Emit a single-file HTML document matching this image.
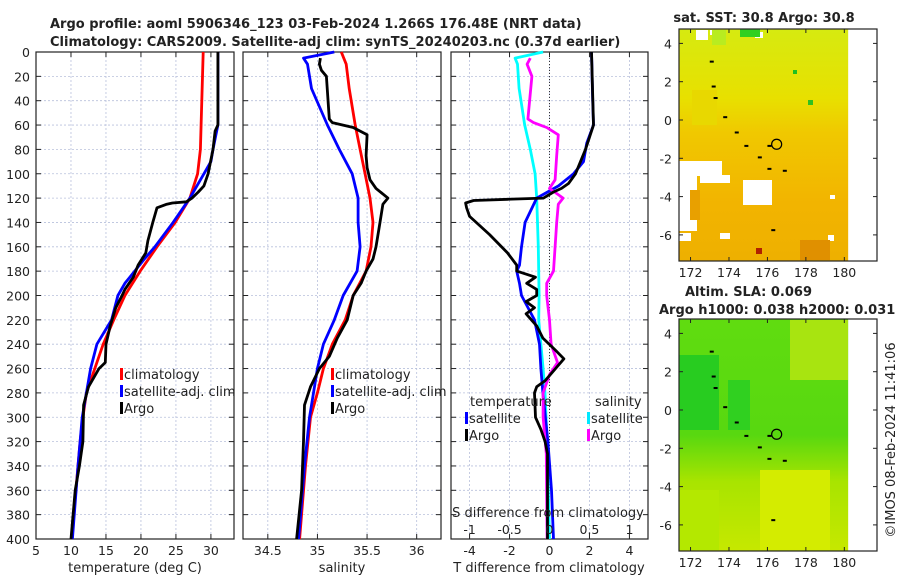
<!DOCTYPE html>
<html><head><meta charset="utf-8"><style>
html,body{margin:0;padding:0;background:#fff;}
svg{display:block;font-family:"DejaVu Sans","Liberation Sans",sans-serif;}
</style></head><body>
<svg id="fig" width="900" height="580" viewBox="0 0 900 580" xmlns="http://www.w3.org/2000/svg">
<defs>
<linearGradient id="sstg" x1="0" y1="0" x2="0" y2="1">
<stop offset="0" stop-color="#d6ea10"/><stop offset="0.3" stop-color="#e8e000"/><stop offset="0.45" stop-color="#f0c800"/><stop offset="0.75" stop-color="#f2b400"/><stop offset="1" stop-color="#eeb000"/>
</linearGradient>
<linearGradient id="slag" x1="0" y1="0" x2="0" y2="1">
<stop offset="0" stop-color="#60dc10"/><stop offset="0.5" stop-color="#58d810"/><stop offset="0.7" stop-color="#a8e400"/><stop offset="1" stop-color="#c6e800"/>
</linearGradient>
</defs>
<g id="root"></g>
</svg>
<script>
// ---- data: depth levels & values ----
const tClimD=[0,20,60,80,100,120,140,160,180,200,220,240,260,280,300,320,340,360,380,400];
const tClimV=[28.9,28.8,28.6,28.5,28.1,27.0,24.9,22.3,19.9,17.7,16.1,14.6,13.4,12.2,11.7,11.3,11.0,10.7,10.4,10.1];
const tSatD=[0,60,80,90,100,120,140,160,170,180,190,200,220,240,260,280,300,340,400];
const tSatV=[31,31,30.3,30,29,27,24.6,22,20.5,19.1,17.7,16.7,15.8,13.7,12.8,12.2,11.6,11,10.2];
const tArgoD=[0,60,65,80,100,110,115,120,123,124,125,128,140,155,165,175,185,195,200,210,225,240,255,260,275,290,320,340,360,400];
const tArgoV=[31,31,30.6,30.3,29.6,29,28.2,27.3,26.5,24.5,23.7,22.3,21.7,21,20.7,19.6,18.9,17.7,17.3,16.4,15.6,15,14.9,14,12.5,11.8,11.7,11.2,10.6,10];
const sClimD=[0,10,30,60,80,100,120,140,160,180,200,220,240,260,280,300,340,400];
const sClimV=[35.24,35.29,35.32,35.38,35.43,35.48,35.53,35.56,35.54,35.49,35.36,35.28,35.15,35.06,35.0,34.93,34.88,34.82];
const sSatD=[0,5,10,30,60,80,100,120,140,160,180,200,220,240,260,280,300,340,400];
const sSatV=[35.17,34.86,34.9,34.94,35.1,35.22,35.35,35.41,35.41,35.43,35.4,35.26,35.17,35.06,35.0,34.96,34.92,34.87,34.81];
const sArgoD=[5,10,15,20,55,58,62,68,85,95,105,112,120,125,140,160,170,180,190,200,220,235,250,260,275,290,320,360,400];
const sArgoV=[35.03,35.02,35.04,35.09,35.12,35.15,35.36,35.5,35.49,35.5,35.53,35.59,35.71,35.66,35.63,35.59,35.56,35.49,35.44,35.36,35.3,35.2,35.12,35.02,34.93,34.87,34.86,34.84,34.79];
const dSsatD=[0,5,10,30,60,80,100,120,160,200,220,260,280,320,400];
const dSsatV=[-0.08,-0.43,-0.40,-0.38,-0.31,-0.24,-0.18,-0.16,-0.14,-0.13,-0.135,-0.08,-0.056,-0.03,0];
const dSargoD=[5,10,20,55,58,62,68,85,105,112,120,125,140,160,180,190,200,220,240,255,265,280,300,330,400];
const dSargoV=[-0.24,-0.28,-0.22,-0.27,-0.2,-0.035,0.11,0.09,0.07,0,0.17,0.11,0.09,0.07,0.05,-0.035,-0.035,0,0.02,0.1,0,-0.08,-0.08,-0.04,-0.03];
const dTsatD=[0,40,60,75,90,100,110,120,140,160,175,180,190,200,220,240,260,280,320,360,400];
const dTsatV=[2.1,2.16,2.2,1.86,1.7,1.2,0.45,-0.64,-1.22,-1.4,-1.5,-1.64,-1.5,-1.4,-0.75,-0.5,-0.43,-0.33,-0.08,0.1,0.2];
const dTargoD=[0,60,70,80,100,108,112,115,120,121,122,124,128,135,150,165,175,180,185,190,195,200,205,210,215,225,235,245,252,260,270,275,280,300,310,320,330,360,400];
const dTargoV=[2.1,2.2,2.0,1.8,1.3,0.95,0.6,0.2,-0.3,-2.1,-3.8,-4.2,-4.15,-4.0,-3.0,-2.1,-1.64,-1.64,-0.7,-1.14,-0.64,-0.64,-1.17,-0.75,-1.17,-0.64,-0.33,0.3,0.72,0.3,-0.22,-0.64,-0.75,-0.7,-0.43,-0.22,-0.1,-0.1,-0.1];
const depthTicks=[0,20,40,60,80,100,120,140,160,180,200,220,240,260,280,300,320,340,360,380,400];
const tTicks=[5,10,15,20,25,30];
const sTicks=[34.5,35,35.5,36];
const dTTicks=[-4,-2,0,2,4];
const dSTicks=[-1,-0.5,0,0.5,1];
const latTicks=[4,2,0,-2,-4,-6];
const lonTicks=[172,174,176,178,180];

const NS="http://www.w3.org/2000/svg";
const root=document.getElementById('root');
function mk(tag,at,parent){const e=document.createElementNS(NS,tag);for(const k in at)e.setAttribute(k,at[k]);(parent||root).appendChild(e);return e;}
function txt(s,x,y,size,anchor,weight,parent){const e=mk('text',{x:x,y:y,'font-size':size,'text-anchor':anchor||'start','font-weight':weight||'normal',fill:'#222'},parent);e.textContent=s;return e;}

const Y0=52,Y1=539;
const yD=d=>Y0+(d/400)*(Y1-Y0);
function panel(name,x0,x1,xmin,xmax,ticks,fmt){
  const g=mk('g',{});
  
  
  const xs=v=>x0+(v-xmin)/(xmax-xmin)*(x1-x0);
  depthTicks.forEach(d=>{mk('line',{x1:x0,x2:x1,y1:yD(d),y2:yD(d),stroke:'#b8c0dc','stroke-width':0.8,'stroke-dasharray':'2,2'},g);
    mk('line',{x1:x0,x2:x0+5,y1:yD(d),y2:yD(d),stroke:'#222'},g);mk('line',{x1:x1-5,x2:x1,y1:yD(d),y2:yD(d),stroke:'#222'},g);});
  ticks.forEach(t=>{const x=xs(t);mk('line',{x1:x,x2:x,y1:Y0,y2:Y1,stroke:'#b8c0dc','stroke-width':0.8,'stroke-dasharray':'2,2'},g);
    mk('line',{x1:x,x2:x,y1:Y1-5,y2:Y1,stroke:'#222'},g);mk('line',{x1:x,x2:x,y1:Y0,y2:Y0+5,stroke:'#222'},g);
    const l=txt(fmt(t),x,Y1+16,12.5,'middle',null,g);});
  mk('rect',{x:x0,y:Y0,width:x1-x0,height:Y1-Y0,fill:'none',stroke:'#222','stroke-width':1.2},g);
  return {g,xs};
}
function line(p,D,V,color,name,xs){
  const pts=D.map((d,i)=>(xs(V[i])).toFixed(1)+','+yD(d).toFixed(1)).join(' ');
  const e=mk('polyline',{points:pts,fill:'none',stroke:color,'stroke-width':2.8,'stroke-linejoin':'round'},p.g);
  
  
}
function legend(g,x,y,items){items.forEach((it,i)=>{mk('rect',{x:x,y:y+i*17-11,width:3,height:12,fill:it[1]},g);
  const t=txt(it[0],x+4,y+i*17,13,'start',null,g);});}

// y labels
depthTicks.forEach(d=>{const t=txt(String(d),30,yD(d)+5,12.5,'end');});

// Panel 1 temperature
const p1=panel('temperature-panel',36,234,5,33.3,tTicks,v=>String(v));
line(p1,tClimD,tClimV,'#ff0000','temp-climatology-line',p1.xs);
line(p1,tSatD,tSatV,'#0000ff','temp-satellite-line',p1.xs);
line(p1,tArgoD,tArgoV,'#000000','temp-argo-line',p1.xs);
legend(p1.g,120,379,[['climatology','#ff0000'],['satellite-adj. clim','#0000ff'],['Argo','#000']]);
txt('temperature (deg C)',135,572,13,'middle');

// Panel 2 salinity
const p2=panel('salinity-panel',243,441,34.25,36.245,sTicks,v=>String(v));
line(p2,sClimD,sClimV,'#ff0000','sal-climatology-line',p2.xs);
line(p2,sSatD,sSatV,'#0000ff','sal-satellite-line',p2.xs);
line(p2,sArgoD,sArgoV,'#000000','sal-argo-line',p2.xs);
legend(p2.g,331,379,[['climatology','#ff0000'],['satellite-adj. clim','#0000ff'],['Argo','#000']]);
txt('salinity',342,572,13,'middle');

// Panel 3 differences
const p3=panel('difference-panel',451,648,-4.93,4.93,dTTicks,v=>String(v));
const xS=v=>p3.xs(v*4);
mk('line',{x1:p3.xs(0),x2:p3.xs(0),y1:Y0,y2:Y1,stroke:'#333','stroke-width':1,'stroke-dasharray':'1,2'},p3.g);
line(p3,dSsatD,dSsatV,'#00ffff','sal-diff-satellite-line',xS);
line(p3,dTsatD,dTsatV,'#0000ff','temp-diff-satellite-line',p3.xs);
line(p3,dSargoD,dSargoV,'#ff00ff','sal-diff-argo-line',xS);
line(p3,dTargoD,dTargoV,'#000000','temp-diff-argo-line',p3.xs);
txt('temperature',470,406,13,'start',null,p3.g);
txt('salinity',595,406,13,'start',null,p3.g);
legend(p3.g,465,423,[['satellite','#0000ff'],['Argo','#000']]);
legend(p3.g,587,423,[['satellite','#00e8ff'],['Argo','#ff00ff']]);
txt('S difference from climatology',548,517,13,'middle',null,p3.g);
dSTicks.forEach(t=>{txt(String(t),xS(t),534,12.5,'middle',null,p3.g);});
txt('T difference from climatology',549,572,13,'middle');

// Titles
const t1=txt('Argo profile: aoml 5906346_123 03-Feb-2024 1.266S 176.48E (NRT data)',50,28,13,'start','bold');

const t2=txt('Climatology: CARS2009. Satellite-adj clim: synTS_20240203.nc (0.37d earlier)',50,46,13,'start','bold');


// Maps
const lonMin=171.4,lonMax=181.7,MX0=679,MX1=877;
const lx=l=>MX0+(l-lonMin)/(lonMax-lonMin)*(MX1-MX0);
function map(name,my0,my1,lat0,fill,extras){
  const g=mk('g',{});
  
  
  const ly=l=>lat0-(l)*19.15;
  mk('rect',{x:MX0,y:my0,width:lx(180.2)-MX0,height:my1-my0,fill:fill},g);
  extras(g);
  // islands
  [[173,3.1],[173.1,1.8],[173.2,1.2],[173.7,0.2],[174.3,-0.6],[174.8,-1.3],[175.5,-1.9],[176,-2.5],[176.8,-2.6],[176.2,-5.7],[176,-1.3]].forEach(p=>mk('rect',{x:lx(p[0]),y:ly(p[1]),width:4,height:2,fill:'#000'},g));
  mk('circle',{cx:lx(176.48),cy:ly(-1.266),r:5,fill:'none',stroke:'#000','stroke-width':1.2},g);
  mk('rect',{x:MX0,y:my0,width:MX1-MX0,height:my1-my0,fill:'none',stroke:'#222','stroke-width':1.2},g);
  latTicks.forEach(l=>{const y=ly(l);mk('line',{x1:MX0,x2:MX0+4,y1:y,y2:y,stroke:'#222'},g);mk('line',{x1:MX1-4,x2:MX1,y1:y,y2:y,stroke:'#222'},g);
    txt(String(l),672,y+5,12.5,'end',null,g);});
  lonTicks.forEach(l=>{const x=lx(l);mk('line',{x1:x,x2:x,y1:my1-4,y2:my1,stroke:'#222'},g);mk('line',{x1:x,x2:x,y1:my0,y2:my0+4,stroke:'#222'},g);
    txt(String(l),x,my1+16,12.5,'middle',null,g);});
  return ly;
}
map('sst-map',29,261,120,'url(#sstg)',g=>{
  const W='#fff';
  [[679,161,43,15],[679,175,18,56],[700,175,10,8],[710,175,20,8],[743,180,29,25],[764,190,8,10],[679,233,12,8],[720,233,10,6],[696,30,12,10],[710,30,12,5],[755,32,8,6],[830,195,5,4],[828,235,6,6]].forEach(r=>mk('rect',{x:r[0],y:r[1],width:r[2],height:r[3],fill:W},g));
  [[712,30,14,15,'#b8ec20'],[740,29,20,8,'#30d020'],[692,90,25,35,'#e8d800'],[793,70,4,4,'#20c020'],[808,100,5,5,'#30c020'],[820,250,4,4,'#c01000'],[756,248,6,6,'#b02000'],[690,190,10,30,'#e8a000'],[800,240,30,20,'#e09000']].forEach(r=>mk('rect',{x:r[0],y:r[1],width:r[2],height:r[3],fill:r[4]},g));
});
const t3=txt('sat. SST: 30.8 Argo: 30.8',764,22,13,'middle','bold');
map('sla-map',319,551,410,'url(#slag)',g=>{
  mk('rect',{x:679,y:355,width:40,height:75,fill:'#28cc20'},g);
  mk('rect',{x:728,y:380,width:22,height:50,fill:'#30d020'},g);
  mk('rect',{x:790,y:320,width:58,height:60,fill:'#a8e410'},g);
  mk('rect',{x:760,y:470,width:70,height:80,fill:'#d4ec00'},g);
  mk('rect',{x:679,y:490,width:40,height:60,fill:'#b4e800'},g);
});
const t4=txt('Altim. SLA: 0.069',685,296,13,'start','bold');
const t5=txt('Argo h1000: 0.038 h2000: 0.031',659,314,13,'start','bold');
const cp=txt('©IMOS 08-Feb-2024 11:41:06',0,0,13,'middle');
cp.setAttribute('transform','translate(895,440) rotate(-90)');


</script>
</body></html>
